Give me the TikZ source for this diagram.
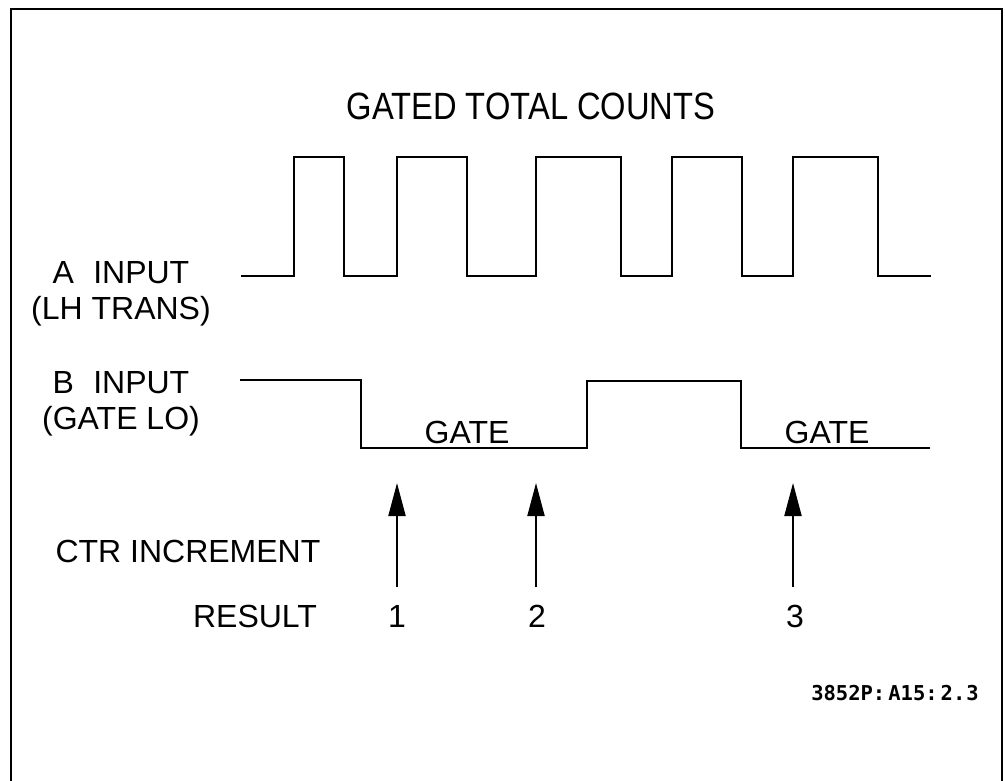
\documentclass[tikz,border=0pt]{standalone}
\usepackage{fontspec}
\setmainfont{Liberation Sans}
\newfontfamily\titlefont[FakeStretch=0.86]{Liberation Sans}
\newfontfamily\codefont{DejaVu Sans Mono}
\usetikzlibrary{arrows.meta}

\begin{document}
\begin{tikzpicture}[
  x=1pt, y=-1pt,
  wave/.style={line width=2pt,line join=miter},
  lbl/.style={inner sep=0pt,font=\fontsize{32}{36}\selectfont,align=center},
  marker/.style={-{Triangle[length=33pt,width=17pt]},line width=2pt}
]
  \useasboundingbox (0,0) rectangle (1005,780);
  \draw[line width=2pt] (11,782) -- (11,9) -- (1002,9) -- (1002,782);

  \node[inner sep=0pt,font=\titlefont\fontsize{38}{40}\selectfont] (title) at (531,106) {GATED TOTAL COUNTS};

  % A input, one pulse train
  \node[lbl] (ainput) at (121,294) {A\hspace{0.6em}INPUT\\(LH TRANS)};
  \draw[wave] (241,276) -- (294,276) -- (294,157) -- (344,157) -- (344,276)
    -- (397,276) -- (397,157) -- (467,157) -- (467,276)
    -- (536,276) -- (536,157) -- (621,157) -- (621,276)
    -- (672,276) -- (672,157) -- (742,157) -- (742,276)
    -- (793,276) -- (793,157) -- (878,157) -- (878,276) -- (931,276);

  % B input, gate low
  \node[lbl] (binput) at (121,404) {B\hspace{0.6em}INPUT\\(GATE LO)};
  \draw[wave] (240,380) -- (361,380) -- (361,448) -- (587,448) -- (587,381)
    -- (741,381) -- (741,448) -- (930,448);
  \node[lbl] (gate1) at (467,432) {GATE};
  \node[lbl] (gate2) at (827,432) {GATE};

  % counter increments
  \node[lbl] (ctr) at (188,551) {CTR INCREMENT};
  \node[lbl] (result) at (255,616) {RESULT};
  \node[lbl] (n1) at (397,616) {1};
  \node[lbl] (n2) at (537,616) {2};
  \node[lbl] (n3) at (795,616) {3};
  \coordinate (b1) at (397,587);
  \coordinate (t1) at (397,483);
  \coordinate (b2) at (536,587);
  \coordinate (t2) at (536,483);
  \coordinate (b3) at (793,587);
  \coordinate (t3) at (793,483);
  \draw[marker] (b1) -- (t1);
  \draw[marker] (b2) -- (t2);
  \draw[marker] (b3) -- (t3);

  \node[inner sep=0pt,font=\codefont\bfseries\fontsize{20.5}{24}\selectfont] (code) at (895,693) {3852P:\hspace{3pt}A15:\hspace{3pt}2.\hspace{1pt}3};
\end{tikzpicture}
\end{document}
